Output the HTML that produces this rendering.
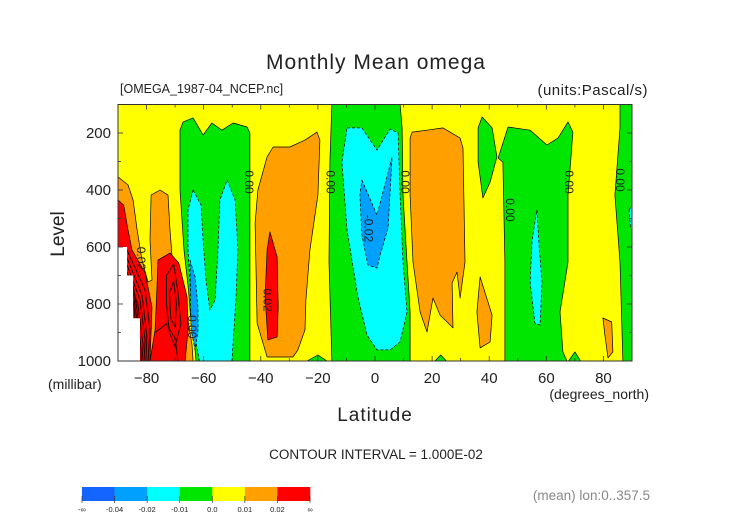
<!DOCTYPE html>
<html><head><meta charset="utf-8">
<style>
html,body{margin:0;padding:0;background:#fff;}
svg{display:block;font-family:"Liberation Sans",sans-serif;}
text{fill:#222;}
</style></head>
<body>
<svg id="chart" width="752" height="532" viewBox="0 0 752 532">
<text x="376" y="69" font-size="21" text-anchor="middle" style="letter-spacing:1px">Monthly Mean omega</text>
<text x="120" y="93" font-size="12.5">[OMEGA_1987-04_NCEP.nc]</text>
<text x="648" y="95" font-size="15" text-anchor="end" style="letter-spacing:0.5px">(units:Pascal/s)</text>
<g id="plot"></g>
<g id="axes"></g>
<text x="64" y="234" font-size="19" text-anchor="middle" transform="rotate(-90 64 234)">Level</text>
<text x="48" y="389" font-size="14">(millibar)</text>
<text x="375" y="421" font-size="19" text-anchor="middle" style="letter-spacing:1px">Latitude</text>
<text x="649" y="399" font-size="14" text-anchor="end">(degrees_north)</text>
<text x="376" y="459" font-size="13.5" text-anchor="middle">CONTOUR INTERVAL = 1.000E-02</text>
<text x="650" y="500" font-size="13.5" text-anchor="end" style="fill:#888">(mean) lon:0..357.5</text>
<g id="legend"></g>
</svg>
<script>
const NS="http://www.w3.org/2000/svg";
const latTicks=[-80,-60,-40,-20,0,20,40,60,80];
const levTicks=[200,400,600,800,1000];
const legendLabels=["-\u221e","-0.04","-0.02","-0.01","0.0","0.01","0.02","\u221e"];
const legendColors=["#1464ff","#00a0ff","#00ffff","#00e600","#ffff00","#ffa000","#ff0000"];
// contour regions [lat, level]
const orangeL=[[-90,354],[-86.5,382],[-84.7,435],[-83.3,540],[-81.6,646],[-79.5,723],[-78.1,716],[-78.8,575],[-78.4,418],[-75.3,400],[-72.5,418],[-71.8,540],[-70.7,681],[-68.3,751],[-65.5,856],[-64.1,944],[-63.7,1000],[-90,1000]];
const redL=[[-90,435],[-88,453],[-86.5,540],[-85.1,611],[-80.5,691],[-78.1,811],[-78.8,1000],[-90,1000]];
const redL2=[[-76,646],[-71.8,621],[-68.7,656],[-65.8,775],[-65.5,891],[-66.5,1000],[-78.8,1000],[-77,891],[-76.5,775]];
const greenW=[[-68.3,190],[-67.2,161],[-63.7,147],[-60.2,207],[-57.1,165],[-53.6,190],[-49.7,165],[-44.8,179],[-43.8,200],[-43.8,1000],[-62.7,1000],[-63,961],[-64.4,867],[-65.3,751],[-66.9,611],[-68.3,400]];
const cyanW=[[-63.7,400],[-60.9,453],[-60.2,575],[-59.2,716],[-57.8,821],[-56,786],[-55,611],[-54.3,435],[-51.8,365],[-49,435],[-48,611],[-48.7,786],[-50.1,1000],[-61.5,1000],[-63.5,891],[-64.6,751],[-65.5,611],[-65.5,470]];
const blueW=[[-64.8,646],[-63,705],[-62,811],[-62,891],[-63,961],[-64.4,891],[-64.6,780]];
const orangeM=[[-37.8,284],[-35.7,249],[-29.8,249],[-24.5,225],[-20.3,197],[-19.3,225],[-20,418],[-22.8,611],[-24.2,786],[-24.5,891],[-27,961],[-28.7,986],[-37.8,986],[-41.3,867],[-42,516],[-41,400]];
const redM=[[-36.8,547],[-34.3,635],[-33.9,811],[-34.3,916],[-37.5,926],[-38.5,775],[-37.8,611]];
const greenS=[[-23.8,1000],[-20,979],[-16.8,1000]];
const greenEq=[[-15.1,100],[8.8,100],[9.5,182],[9.8,418],[11.2,653],[12.3,828],[12.3,1000],[-15.1,1000],[-16.1,653],[-15.8,302]];
const cyanEq=[[-9.8,182],[-4.6,182],[0.7,260],[5.3,186],[8.1,200],[8.8,418],[9.8,653],[11.2,828],[8.8,933],[5.3,961],[0.7,961],[-2.8,909],[-6,775],[-9.8,540],[-11.6,302]];
const blueEq=[[-4.6,365],[0.7,488],[6,284],[4.6,533],[1.8,628],[0.7,674],[-2.5,663],[-4.6,558],[-5.3,418]];
const orangeE=[[13,197],[18.2,190],[23.8,182],[29.8,218],[30.8,253],[31.5,653],[29.8,779],[28.7,688],[27,726],[27.3,884],[22.8,839],[20.3,779],[18.2,898],[15.8,828],[13.3,653],[12.3,418],[12.3,218]];
const orangeS1=[[36.8,705],[41,839],[40.3,933],[36.8,954],[35.7,828]];
const orangeS2=[[79.8,849],[82.9,863],[83.3,968],[81.6,989],[80.5,909]];
const greenL40=[[37.5,144],[41,182],[42.7,284],[40.3,372],[37.8,428],[36.1,302],[36.1,182]];
const greenR60=[[43.1,288],[46.6,179],[54.3,190],[60.2,242],[64.1,218],[67.6,161],[69.3,197],[67.6,418],[67.6,653],[64.8,828],[65.8,968],[67.2,1000],[45.5,1000],[45.5,653],[44.8,302]];
const greenT1=[[67.8,1000],[70,968],[72,1000]];
const greenT2=[[21,1000],[23,979],[25,1000]];
const cyanR=[[56.7,470],[57.5,600],[58.5,723],[57.8,874],[56,867],[54.3,723],[55,575]];
const greenR88=[[85.8,100],[90,100],[90,1000],[86.8,1000],[85.8,653],[84,418],[85.8,182]];
const cyanR2=[[89,470],[90,455],[90,545],[89.4,525]];
const missing=[[-90,600],[-86.8,600],[-86.8,700],[-84.7,700],[-84.7,850],[-82.3,850],[-82.3,1000],[-90,1000]];
const innerC1=[[-86.8,611],[-80.5,751],[-78.8,891],[-79.5,1000]];
const innerC2=[[-86.8,639],[-81.6,768],[-79.9,909],[-80.2,1000]];
const innerC3=[[-86.8,663],[-82.3,786],[-80.5,926],[-80.9,1000]];
const innerC4=[[-86.8,688],[-83,804],[-81.2,944],[-81.6,1000]];
const innerC5=[[-84.7,733],[-83.3,821],[-81.9,961],[-81.9,1000]];
const innerC6=[[-84.7,760],[-83.6,840],[-82.3,900]];
const innerC7=[[-84.7,790],[-84,850]];
const innerC8=[[-73,700],[-70.5,660],[-69,760],[-68,870],[-70,950],[-72,900],[-73,800],[-73,700]];
const innerC9=[[-72,760],[-70.5,720],[-69.5,800],[-70,880],[-71.5,850],[-72,760]];
const innerC10=[[-77,900],[-73,870],[-70,920],[-69,1000]];
const labelsText=["0.00","0.00","0.00","0.00","0.00","0.00","0.02","-0.02","0.02","0.00"];
const labelsLat=[-44.5,-15.8,10.2,47,67.6,85.5,-38,-2.6,-82.3,-64.3];
const labelsLev=[372,372,372,470,372,365,786,535,640,880];

const X0=118,X1=632,Y0=104.5,Y1=361;
function xs(lat){return X0+(lat+90)/180*(X1-X0);}
function ys(lev){return Y0+(lev-100)/900*(Y1-Y0);}
function pts(a){return a.map(p=>xs(p[0]).toFixed(1)+","+ys(p[1]).toFixed(1)).join(" ");}
const plot=document.getElementById("plot");
const bg=document.createElementNS(NS,"rect");
bg.setAttribute("x",X0);bg.setAttribute("y",Y0);bg.setAttribute("width",X1-X0);bg.setAttribute("height",Y1-Y0);bg.setAttribute("fill","#ffff00");


plot.appendChild(bg);
function poly(arr,fill,dash,name){
  const p=document.createElementNS(NS,"polygon");
  p.setAttribute("points",pts(arr));p.setAttribute("fill",fill);
  p.setAttribute("stroke","#000");p.setAttribute("stroke-width","0.7");p.setAttribute("stroke-linejoin","round");
  if(dash)p.setAttribute("stroke-dasharray","3,2");
  
  
  plot.appendChild(p);
}
poly(orangeL,"#ffa000",false,"orange-region-south");
poly(redL,"#ff0000",false,"red-region-south");
poly(redL2,"#ff0000",false,"red-region-75s");
poly(greenW,"#00e600",false,"green-region-60s");
poly(cyanW,"#00ffff",true,"cyan-region-60s");
poly(blueW,"#00a0ff",true,"blue-region-60s");
poly(orangeM,"#ffa000",false,"orange-region-40s");
poly(redM,"#ff0000",false,"red-region-40s");
poly(greenS,"#00e600",false,"green-spot-20s");
poly(greenEq,"#00e600",false,"green-region-equator");
poly(cyanEq,"#00ffff",true,"cyan-region-equator");
poly(blueEq,"#00a0ff",true,"blue-region-equator");
poly(orangeE,"#ffa000",false,"orange-region-20n");
poly(orangeS1,"#ffa000",false,"orange-region-40n");
poly(orangeS2,"#ffa000",false,"orange-region-80n");
poly(greenL40,"#00e600",false,"green-region-40n");
poly(greenR60,"#00e600",false,"green-region-60n");
poly(greenT1,"#00e600",false,"green-spot-70n");
poly(greenT2,"#00e600",false,"green-spot-20n");
poly(cyanR,"#00ffff",true,"cyan-region-60n");
poly(greenR88,"#00e600",false,"green-region-90n");
poly(cyanR2,"#00ffff",true,"cyan-sliver-90n");
[innerC1,innerC2,innerC3,innerC4,innerC5,innerC6,innerC7,innerC8,innerC9,innerC10].forEach(c=>{
  const l=document.createElementNS(NS,"polyline");
  l.setAttribute("points",pts(c));l.setAttribute("fill","none");l.setAttribute("stroke","#200");l.setAttribute("stroke-width","1");
  
  
  plot.appendChild(l);
});
const m=document.createElementNS(NS,"polygon");
m.setAttribute("points",pts(missing));m.setAttribute("fill","#fff");


plot.appendChild(m);
for(let i=0;i<labelsText.length;i++){
  const x=xs(labelsLat[i]),y=ys(labelsLev[i]);
  const t=document.createElementNS(NS,"text");
  t.setAttribute("x",x);t.setAttribute("y",y);t.setAttribute("font-size","12");
  t.setAttribute("text-anchor","middle");t.setAttribute("dominant-baseline","middle");
  t.setAttribute("transform","rotate(90 "+x+" "+y+")");
  t.textContent=labelsText[i];
  
  
  plot.appendChild(t);
}
const axes=document.getElementById("axes");
const frame=document.createElementNS(NS,"rect");
frame.setAttribute("x",X0);frame.setAttribute("y",Y0);frame.setAttribute("width",X1-X0);frame.setAttribute("height",Y1-Y0);
frame.setAttribute("fill","none");frame.setAttribute("stroke","#333");frame.setAttribute("stroke-width","1");


axes.appendChild(frame);
function line(x1,y1,x2,y2){
  const l=document.createElementNS(NS,"line");
  l.setAttribute("x1",x1);l.setAttribute("y1",y1);l.setAttribute("x2",x2);l.setAttribute("y2",y2);
  l.setAttribute("stroke","#333");l.setAttribute("stroke-width","0.8");
  
  
  axes.appendChild(l);
}
for(let lat=-90;lat<=90;lat+=10){const x=xs(lat);const L=(lat%20===0)?5:3;line(x,Y1,x,Y1-L);line(x,Y0,x,Y0+L);}
for(let lev=100;lev<=1000;lev+=100){const y=ys(lev);const L=(lev%200===0)?5:3;line(X0,y,X0+L,y);line(X1,y,X1-L,y);}
latTicks.forEach(v=>{
  const t=document.createElementNS(NS,"text");
  t.setAttribute("x",xs(v));t.setAttribute("y",Y1+22);t.setAttribute("font-size","15");t.setAttribute("text-anchor","middle");
  t.textContent=v<0?"\u2212"+Math.abs(v):String(v);
  
  
  axes.appendChild(t);
});
levTicks.forEach(v=>{
  const t=document.createElementNS(NS,"text");
  t.setAttribute("x",X0-7);t.setAttribute("y",ys(v)+5);t.setAttribute("font-size","15");t.setAttribute("text-anchor","end");
  t.textContent=String(v);
  
  
  axes.appendChild(t);
});
const leg=document.getElementById("legend");
const LX=82,LW=228/7;
legendColors.forEach((c,i)=>{
  const r=document.createElementNS(NS,"rect");
  r.setAttribute("x",LX+i*LW);r.setAttribute("y",487);r.setAttribute("width",LW+0.3);r.setAttribute("height",14);r.setAttribute("fill",c);
  
  
  leg.appendChild(r);
});
legendLabels.forEach((s,i)=>{
  const x=LX+i*LW;
  const tk=document.createElementNS(NS,"line");
  tk.setAttribute("x1",x);tk.setAttribute("x2",x);tk.setAttribute("y1",496);tk.setAttribute("y2",503);tk.setAttribute("stroke","#333");tk.setAttribute("stroke-width","0.7");
  
  
  leg.appendChild(tk);
  const t=document.createElementNS(NS,"text");
  t.setAttribute("x",x);t.setAttribute("y",512);t.setAttribute("font-size","7.5");t.setAttribute("text-anchor","middle");
  t.textContent=s;
  
  
  leg.appendChild(t);
});
</script>
</body></html>
